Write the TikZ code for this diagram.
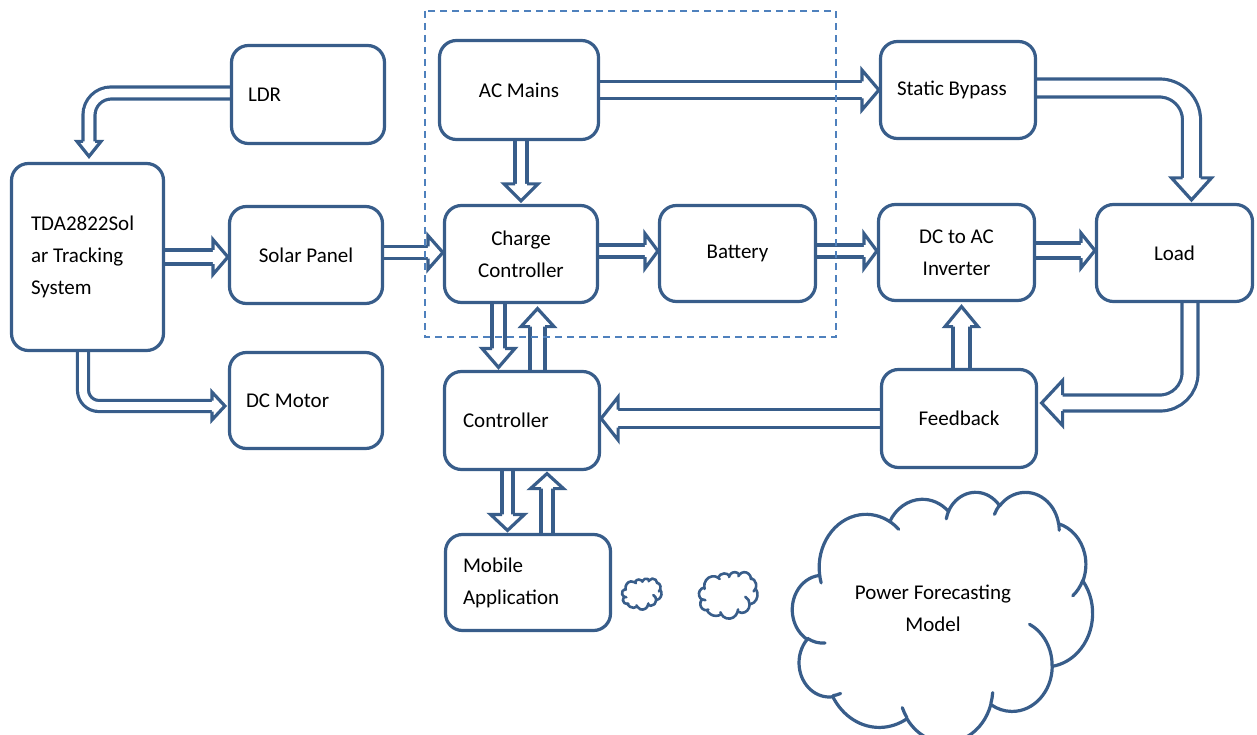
\documentclass[tikz,border=0pt]{standalone}
\usepackage{fontspec}
\setmainfont{Carlito}
\usetikzlibrary{calc}
\definecolor{bord}{RGB}{56,93,138}
\definecolor{dashcol}{RGB}{79,129,189}
\pgfdeclarelayer{bg}
\pgfsetlayers{bg,main}
\tikzset{
  box/.style={draw=bord, line width=3.2pt, rounded corners=17pt, fill=white,
    inner sep=0pt, font=\fontsize{21}{32}\selectfont, align=center},
  lbox/.style 2 args={box, align=flush left, inner xsep=#1, text width=#2},
  shaft/.style={draw=bord, line width=3.2pt, double=white, double distance=#1pt-3.2pt},
  headst/.style={draw=bord, fill=white, line width=3.2pt, line join=miter},
  cloudline/.style={draw=bord, line width=#1, line join=round, line cap=round},
  txt/.style={inner sep=0pt, font=\fontsize{21}{32}\selectfont, align=center}
}
% #1 tip, #2 angle, #3 head width, #4 head length, #5 shaft width
\newcommand\ahead[5]{%
  \begin{scope}[shift={#1}, rotate=#2]
    \filldraw[headst] (-#4,#5/2) -- (-#4,#3/2) -- (0,0) -- (-#4,-#3/2) -- (-#4,-#5/2);
  \end{scope}}
% [opts] start, op, tip, angle, W, L, s
\newcommand\blockarrow[8][]{%
  \draw[shaft=#8, shorten >=#7pt-1.6pt, #1] #2 #3 #4;
  \ahead{#4}{#5}{#6}{#7}{#8}}
% elliptical arc with visual angles: wR, hR, start, sweep
\newcommand\oarc[4]{arc[start angle={atan2((#1)*sin(#3),(#2)*cos(#3))},
  delta angle={mod(atan2((#1)*sin((#3)+(#4)),(#2)*cos((#3)+(#4)))-atan2((#1)*sin(#3),(#2)*cos(#3))+720,360)},
  x radius=#1, y radius=#2]}
% cloud outline in a 432 x 432 frame: #1 left, #2 top, #3 width, #4 height, #5 line width
\newcommand\ocloud[5]{%
  \begin{scope}[shift={(#1,#2)}, x=#3pt/432, y=-#4pt/432]
    \filldraw[cloudline=#5, fill=white] (39.00,143.70)
      \oarc{67.53}{91.90}{-190.4875}{123.7805}
      \oarc{53.33}{72.67}{-144.1024}{89.9452}
      \oarc{43.65}{59.45}{-145.8079}{99.7230}
      \oarc{48.57}{65.95}{-130.9861}{117.2417}
      \oarc{53.33}{72.73}{-78.7089}{109.0269}
      \oarc{67.75}{92.20}{-46.2673}{130.2690}
      \oarc{57.85}{78.67}{0.6250}{114.0333}
      \oarc{67.52}{92.15}{22.4516}{115.1726}
      \oarc{77.20}{105.43}{66.2426}{75.7110}
      \oarc{43.60}{59.18}{-274.9421}{146.7356}
      \oarc{43.45}{59.45}{-246.8285}{152.5189} -- cycle;
    \draw[cloudline=#5]
      (46.93,261.77) \oarc{43.45}{59.45}{86.7420}{26.4295}
      (69.28,348.99) \oarc{43.60}{59.18}{73.6105}{11.4475}
      (164.78,390.90) \oarc{67.52}{92.15}{137.6242}{14.0811}
      (288.27,347.51) \oarc{67.52}{92.15}{6.4533}{15.9984}
      (341.29,229.54) \oarc{57.85}{78.67}{-70.2924}{70.9174}
      (417.98,153.54) \oarc{53.33}{72.73}{30.3180}{27.7515}
      (383.24,54.26) \oarc{48.57}{65.95}{-13.7443}{14.8622}
      (290.78,39.52) \oarc{48.57}{65.95}{-149.1815}{18.1954}
      (221.41,47.20) \oarc{43.65}{59.45}{-163.4943}{17.6864}
      (140.00,51.92) \oarc{67.53}{91.90}{-66.7070}{12.3194}
      (41.27,157.89) \oarc{67.53}{91.90}{157.6544}{11.8582};
  \end{scope}}
\begin{document}
\begin{tikzpicture}[x=1pt, y=-1pt]
\useasboundingbox (0,0) rectangle (1257,735);

% boxes
\node[lbox={16.5pt}{120pt}, minimum width=153pt, minimum height=98pt] (ldr) at (308,94.5) {LDR};
\node[lbox={19.5pt}{113pt}, minimum width=152pt, minimum height=187pt] (tda) at (87.5,257) {TDA2822Sol\\ar Tracking\\System};
\node[box, minimum width=153pt, minimum height=97pt] (solar) at (306,255) {Solar Panel};
\node[lbox={16.5pt}{120pt}, minimum width=153pt, minimum height=96pt] (dcm) at (306,400.5) {DC Motor};
\node[box, minimum width=159pt, minimum height=99pt] (acm) at (519,90) {AC Mains};
\node[box, minimum width=153pt, minimum height=97pt] (cc) at (521,254) {Charge\\Controller};
\node[box, minimum width=156pt, minimum height=96pt] (bat) at (737.5,253.5) {Battery};
\node[lbox={16.5pt}{122pt}, minimum width=155pt, minimum height=97pt] (sb) at (958,90) {Static Bypass};
\node[box, minimum width=156pt, minimum height=96pt] (inv) at (956.5,252.5) {DC to AC\\Inverter};
\node[box, minimum width=156pt, minimum height=97pt] (load) at (1174.5,253) {Load};
\node[lbox={18.5pt}{118pt}, minimum width=155pt, minimum height=98pt] (ctrl) at (522,420.5) {Controller};
\node[box, minimum width=155pt, minimum height=98pt] (fb) at (959,418.5) {Feedback};
\node[lbox={17.5pt}{130pt}, minimum width=165pt, minimum height=96pt] (mob) at (528,582.5) {Mobile\\Application};

% clouds
\ocloud{622}{578.5}{39.5}{31}{2.6pt}
\ocloud{699}{572}{58.5}{46.5}{2.6pt}
\ocloud{792.5}{491.5}{300}{250}{3.2pt}
\node[txt] (pfm) at (933,608) {Power Forecasting\\Model};

% connectors
\begin{pgfonlayer}{bg}
\blockarrow[rounded corners=22pt]{($(ldr.west)+(0,-1.5)$)}{-|}{($(tda.north)+(1.5,-5.5)$)}{-90}{24}{15}{12}
\blockarrow{(tda.east)}{--}{(tda.east -| solar.west)}{0}{35}{15}{14}
\blockarrow[rounded corners=16pt]{($(tda.south)+(-4.5,0)$)}{|-}{($(dcm.west)+(-3,5.5)$)}{0}{28}{13}{11}
\blockarrow{($(solar.east)+(0,-2.5)$)}{--}{($(solar.east -| cc.west)+(0,-2.5)$)}{0}{34}{15}{12}
\blockarrow{(acm.east)}{--}{(sb.west)}{0}{40}{17}{17}
\blockarrow{(cc.north |- acm.south)}{--}{($(cc.north)+(0,-3)$)}{-90}{34}{17}{12}
\blockarrow{($(cc.east)+(0,-3)$)}{--}{($(cc.east -| bat.west)+(0,-3)$)}{0}{35}{13}{12}
\blockarrow{($(bat.east)+(0,-2.5)$)}{--}{($(bat.east -| inv.west)+(0,-2.5)$)}{0}{35}{13}{12}
\blockarrow{($(inv.east)+(0,-2)$)}{--}{($(inv.east -| load.west)+(0,-2)$)}{0}{35}{14}{15}
\blockarrow[rounded corners=32pt]{($(sb.east)+(0,-2)$)}{-|}{($(load.north)+(17,-3)$)}{-90}{40}{22}{18}
\blockarrow[rounded corners=30pt]{($(load.south)+(15.5,0)$)}{|-}{($(fb.east)+(3.5,-15.5)$)}{180}{45}{21}{16}
\blockarrow{(fb.west)}{--}{(fb.west -| ctrl.east)}{180}{43}{17}{18}
\blockarrow{($(fb.north)+(2.5,0)$)}{--}{($(inv.south)+(5,4.5)$)}{90}{33}{20}{17}
\blockarrow{($(cc.south)+(-22.5,0)$)}{--}{($(ctrl.north)+(-23.5,-2.5)$)}{-90}{33}{19}{13}
\blockarrow{($(ctrl.north)+(15.5,0)$)}{--}{($(cc.south)+(16.5,4.5)$)}{90}{33}{18}{15}
\blockarrow{($(ctrl.south)+(-14.5,0)$)}{--}{($(mob.north)+(-20.5,-2.5)$)}{-90}{34}{16}{11}
\blockarrow{($(mob.north)+(19,0)$)}{--}{($(ctrl.south)+(25,2.5)$)}{90}{33}{15}{12}
\end{pgfonlayer}

% dashed group frame
\draw[dashcol, line width=1.5pt, dash pattern=on 7pt off 5pt] (425,11) rectangle (836,337);
\end{tikzpicture}
\end{document}
